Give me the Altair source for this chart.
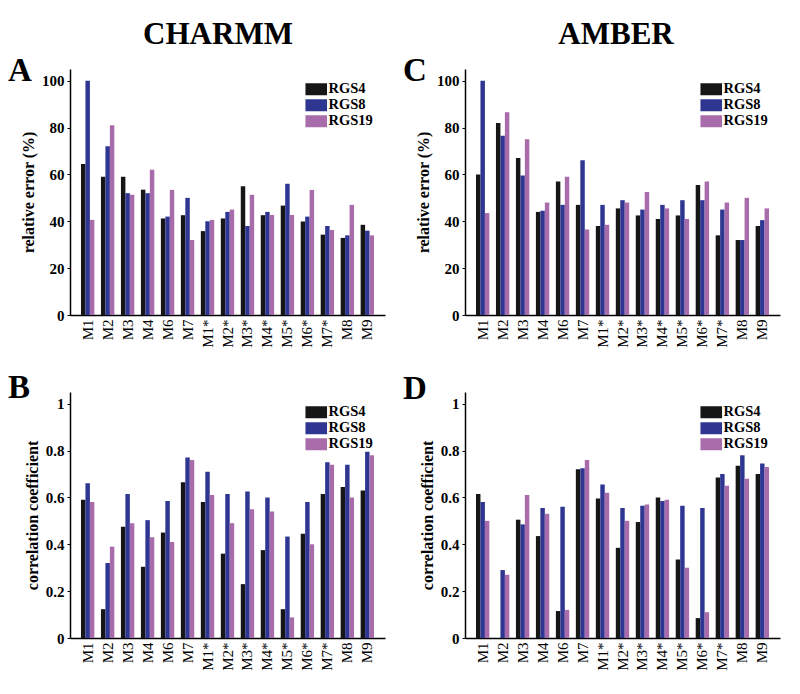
import altair as alt
import pandas as pd

SERIF = "Liberation Serif"

models = ["M1", "M2", "M3", "M4", "M6", "M7", "M1*", "M2*", "M3*", "M4*",
          "M5*", "M6*", "M7*", "M8", "M9"]
series = ["RGS4", "RGS8", "RGS19"]
colors = ["#161616", "#2e3692", "#a86cab"]

# Panel A: CHARMM relative error (%)
charmm_err_rgs4 = [64.5, 59, 59, 53.5, 41.2, 42.6, 35.8, 41.2, 55, 42.6, 46.7, 39.9, 34.3, 32.9, 38.5]
charmm_err_rgs8 = [100, 72, 52, 52, 42, 50, 40, 44, 38, 44, 56, 42, 38, 34, 36]
charmm_err_rgs19 = [40.6, 81, 51.3, 62, 53.4, 32, 40.6, 45, 51.3, 42.7, 42.7, 53.4, 36.3, 47, 34]

# Panel C: AMBER relative error (%)
amber_err_rgs4 = [60, 82, 67, 44, 57, 47, 38, 45.5, 42.5, 41, 42.5, 55.5, 34, 32, 38]
amber_err_rgs8 = [100, 76.5, 59.5, 44.5, 47, 66, 47, 49, 45, 47, 49, 49, 45, 32, 40.5]
amber_err_rgs19 = [43.5, 86.5, 75, 48, 59, 36.5, 38.5, 48, 52.5, 45.5, 41, 57, 48, 50, 45.5]

# Panel B: CHARMM correlation coefficient
charmm_cc_rgs4 = [0.59, 0.123, 0.475, 0.304, 0.45, 0.665, 0.58, 0.36, 0.23, 0.375, 0.123, 0.445, 0.615, 0.645, 0.63]
charmm_cc_rgs8 = [0.66, 0.32, 0.615, 0.503, 0.585, 0.77, 0.71, 0.615, 0.625, 0.60, 0.433, 0.58, 0.75, 0.74, 0.795]
charmm_cc_rgs19 = [0.58, 0.39, 0.49, 0.43, 0.41, 0.76, 0.61, 0.49, 0.55, 0.54, 0.088, 0.40, 0.74, 0.60, 0.78]

# Panel D: AMBER correlation coefficient
amber_cc_rgs4 = [0.615, 0.0, 0.505, 0.435, 0.115, 0.72, 0.595, 0.385, 0.495, 0.60, 0.335, 0.085, 0.685, 0.735, 0.70]
amber_cc_rgs8 = [0.58, 0.29, 0.485, 0.555, 0.56, 0.725, 0.655, 0.555, 0.565, 0.585, 0.565, 0.555, 0.70, 0.78, 0.745]
amber_cc_rgs19 = [0.50, 0.27, 0.61, 0.53, 0.12, 0.76, 0.62, 0.50, 0.57, 0.59, 0.30, 0.11, 0.65, 0.68, 0.73]

err_ticks = [0, 20, 40, 60, 80, 100]
cc_ticks = [0, 0.2, 0.4, 0.6, 0.8, 1.0]

W = 315
H = 246


def make_df(a, b, c):
    rows = []
    for s, vals in zip(series, [a, b, c]):
        for m, v in zip(models, vals):
            rows.append({"model": m, "series": s, "value": v})
    return pd.DataFrame(rows)


def panel(df, ytitle, ydomain, yticks, yfmt, letter, letter_y, header=None, header_x=0):
    bars = alt.Chart(df).mark_bar().encode(
        x=alt.X("model:N", sort=models,
                scale=alt.Scale(paddingInner=0.33, paddingOuter=0.55),
                axis=alt.Axis(title=None, labelAngle=-90, labelFont=SERIF,
                              labelFontSize=15, labelColor="black", ticks=False,
                              labelPadding=4, domainColor="black", domainWidth=1.5)),
        xOffset=alt.XOffset("series:N", sort=series,
                            scale=alt.Scale(paddingInner=0, paddingOuter=0)),
        y=alt.Y("value:Q", scale=alt.Scale(domain=ydomain, nice=False, zero=True),
                axis=alt.Axis(title=ytitle, values=yticks, format=yfmt, grid=False,
                              labelFont=SERIF, labelFontSize=15, labelFontWeight="bold",
                              labelColor="black", tickColor="black", tickSize=3,
                              labelPadding=3, domainColor="black", domainWidth=1.5,
                              titleFont=SERIF, titleFontSize=16, titleFontWeight="bold",
                              titleColor="black", titlePadding=5)),
        color=alt.Color("series:N", sort=series,
                        scale=alt.Scale(domain=series, range=colors),
                        legend=alt.Legend(title=None, orient="none", legendX=239, legendY=13,
                                          symbolType="M-1.8,-1H1.8V1H-1.8Z",
                                          symbolSize=144, symbolStrokeWidth=0,
                                          symbolOpacity=1,
                                          labelFont=SERIF, labelFontSize=14.5,
                                          labelFontWeight="bold", labelColor="black",
                                          labelOffset=5, rowPadding=1)),
    )
    lt = alt.Chart(alt.Data(values=[{"t": letter}])).mark_text(
        font=SERIF, fontSize=33, fontWeight="bold", align="left",
        baseline="alphabetic", color="black"
    ).encode(x=alt.value(-62), y=alt.value(letter_y), text="t:N")
    layers = [bars, lt]
    if header:
        ht = alt.Chart(alt.Data(values=[{"t": header}])).mark_text(
            font=SERIF, fontSize=31, fontWeight="bold", align="center",
            baseline="middle", color="black"
        ).encode(x=alt.value(header_x), y=alt.value(-34), text="t:N")
        layers.append(ht)
    return alt.layer(*layers).properties(width=W, height=H)


pA = panel(make_df(charmm_err_rgs4, charmm_err_rgs8, charmm_err_rgs19),
           "relative error (%)", [0, 105], err_ticks, "d", "A", 12, "CHARMM", 148)
pC = panel(make_df(amber_err_rgs4, amber_err_rgs8, amber_err_rgs19),
           "relative error (%)", [0, 105], err_ticks, "d", "C", 12, "AMBER", 151)
pB = panel(make_df(charmm_cc_rgs4, charmm_cc_rgs8, charmm_cc_rgs19),
           "correlation coefficient", [0, 1.05], cc_ticks, ".1~f", "B", 6)
pD = panel(make_df(amber_cc_rgs4, amber_cc_rgs8, amber_cc_rgs19),
           "correlation coefficient", [0, 1.05], cc_ticks, ".1~f", "D", 7)

chart = alt.concat(pA, pC, pB, pD, columns=2,
                   spacing=alt.RowColnumber(row=77, column=80),
                   bounds="flush").resolve_scale(
    color="independent", x="independent", y="independent"
).resolve_legend(color="independent").properties(
    padding={"left": 0, "top": 11, "right": 5, "bottom": 5}
).configure(
    background="white", font=SERIF
).configure_view(stroke=None).configure_axis(
    labelFont=SERIF, titleFont=SERIF
).configure_legend(labelFont=SERIF)

chart.save("out.html", embed_options={"renderer": "svg", "actions": False})
